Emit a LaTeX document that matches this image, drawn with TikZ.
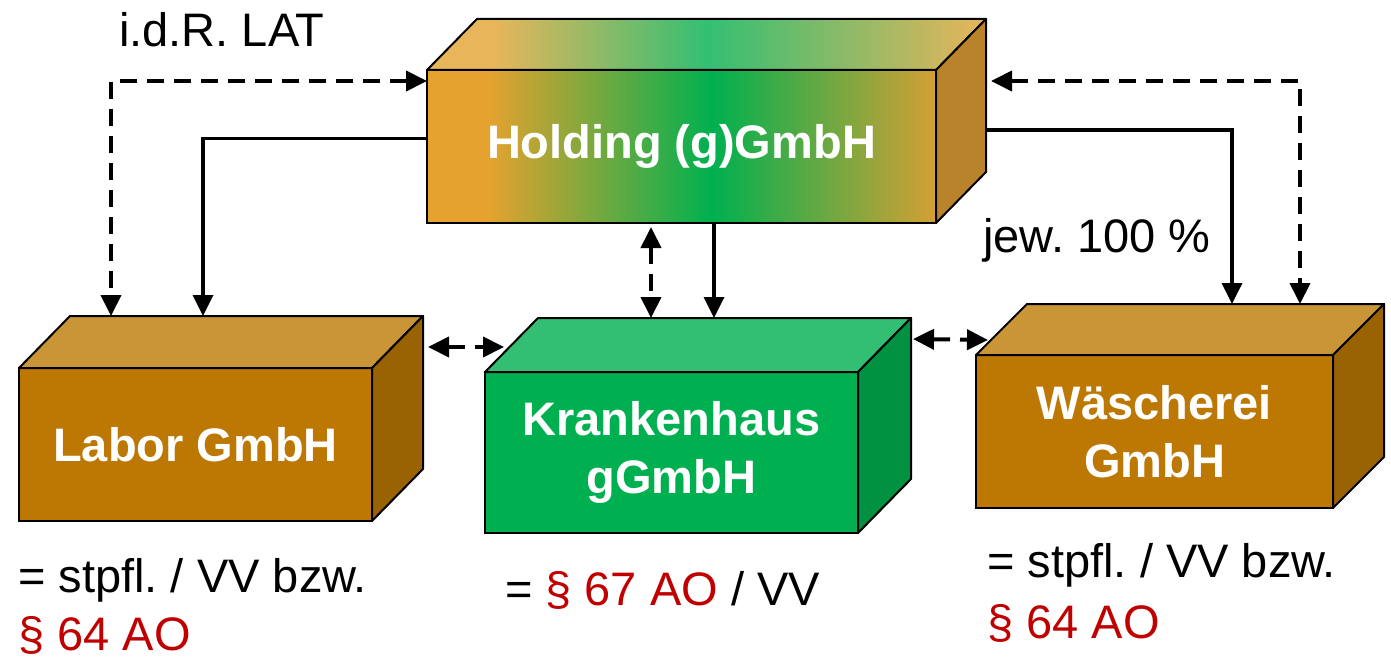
\documentclass[tikz,border=0pt]{standalone}
\usepackage{fontspec}
\setmainfont{Liberation Sans}
\usetikzlibrary{arrows.meta,calc}
\frenchspacing

\definecolor{brfront}{RGB}{188,120,3}
\definecolor{brtop}{RGB}{201,149,55}
\definecolor{brside}{RGB}{153,98,3}
\definecolor{grfront}{RGB}{0,176,80}
\definecolor{grtop}{RGB}{51,191,115}
\definecolor{grside}{RGB}{0,145,65}
\definecolor{hoorange}{RGB}{229,162,47}
\definecolor{hoorangeR}{RGB}{212,160,52}
\definecolor{hotop}{RGB}{232,181,91}
\definecolor{hoside}{RGB}{184,131,42}
\definecolor{parared}{RGB}{192,0,0}

\pgfdeclarehorizontalshading{holdfront}{100bp}{color(0bp)=(hoorange); color(31bp)=(hoorange); color(53bp)=(grfront); color(75bp)=(hoorangeR); color(100bp)=(hoorangeR)}
\pgfdeclarehorizontalshading{holdtop}{100bp}{color(0bp)=(hotop); color(31bp)=(hotop); color(50bp)=(grtop); color(75bp)=(hotop); color(100bp)=(hotop)}

\begin{document}
\begin{tikzpicture}[x=1pt, y=-1pt,
  font=\fontsize{47}{58}\selectfont,
  cube/.style={draw, line width=2pt, inner sep=0pt, outer sep=0pt, align=center,
               text=white, font=\fontsize{47}{58}\selectfont\bfseries, minimum height=153pt},
  face/.style={draw, line width=2pt, line join=round},
  link/.style={-{Triangle[length=21pt,width=20pt]}, line width=3.5pt},
  dlink/.style={{Triangle[length=21pt,width=20pt]}-{Triangle[length=21pt,width=20pt]},
                line width=4pt, dash pattern=on 17pt off 10pt},
  note/.style={anchor=base west, inner sep=0pt}
]
\useasboundingbox (0,0) rectangle (1391,658);

% front faces
\node[cube, fill=brfront, minimum width=353pt] (lab) at (195.5,444.5) {Labor GmbH};
\node[cube, shade, shading=holdfront, minimum width=509pt] (hold) at (681.5,146.5) {Holding (g)GmbH};
\node[cube, fill=grfront, minimum width=373pt, minimum height=161pt] (kh) at (671.5,452.5) {Krankenhaus\\gGmbH};
\node[cube, fill=brfront, minimum width=357pt] (wae) at (1154.5,431.5) {Wäscherei\\GmbH};

\coordinate (labback) at ($(lab.north west)+(51,-52)$);
\coordinate (holdback) at ($(hold.north east)+(50,-51)$);
\coordinate (khback) at ($(kh.north west)+(53,-54)$);
\coordinate (waeback) at ($(wae.north west)+(51,-51)$);

% top and side faces
\filldraw[face, fill=brtop] (lab.north west) -- (labback) -- ($(lab.north east)+(51,-52)$) -- (lab.north east) -- cycle;
\filldraw[face, fill=brside] (lab.north east) -- ($(lab.north east)+(51,-52)$) -- ($(lab.south east)+(51,-52)$) -- (lab.south east) -- cycle;
\path[face, shade, shading=holdtop] (hold.north west) -- ($(hold.north west)+(50,-51)$) -- (holdback) -- (hold.north east) -- cycle;
\filldraw[face, fill=hoside] (hold.north east) -- (holdback) -- ($(hold.south east)+(50,-51)$) -- (hold.south east) -- cycle;
\filldraw[face, fill=grtop] (kh.north west) -- (khback) -- ($(kh.north east)+(53,-54)$) -- (kh.north east) -- cycle;
\filldraw[face, fill=grside] (kh.north east) -- ($(kh.north east)+(53,-54)$) -- ($(kh.south east)+(53,-54)$) -- (kh.south east) -- cycle;
\filldraw[face, fill=brtop] (wae.north west) -- (waeback) -- ($(wae.north east)+(51,-51)$) -- (wae.north east) -- cycle;
\filldraw[face, fill=brside] (wae.north east) -- ($(wae.north east)+(51,-51)$) -- ($(wae.south east)+(51,-51)$) -- (wae.south east) -- cycle;

% connectors
\draw[dlink] ($(hold.north west)+(0,11)$) -| ($(labback)+(41,0)$);
\draw[link] ($(hold.west)+(0,-8)$) -| ($(labback)+(133,0)$);
\draw[link] ($(holdback)+(0,111)$) -| ($(waeback)+(205,0)$);
\draw[dlink] ($(holdback)+(5,62)$) -| ($(waeback)+(273,0)$);
\draw[dlink] ($(hold.south)+(-30.5,4)$) -- ($(khback)+(113,0)$);
\draw[link] ($(hold.south)+(32.5,0)$) -- ($(khback)+(176,0)$);
\draw[dlink] ($(lab.north east)+(56,-21)$) -- ($(kh.north west)+(19,-25)$);
\draw[dlink] ($(kh.north east)+(55,-33)$) -- ($(wae.north west)+(12,-15)$);

% notes
\node[note] (idr) at (119,47) {i.d.R. LAT};
\node[note] (jew) at (983,252) {jew. 100 \%};
\node[note] (labnote) at (18,592) {= stpfl. / VV bzw.};
\node[note, text=parared] (labpara) at (18,650) {§ 64 AO};
\node[note] (khnote) at (505,605) {= {\color{parared}§ 67 AO} / VV};
\node[note] (waenote) at (987,577) {= stpfl. / VV bzw.};
\node[note, text=parared] (waepara) at (987,638) {§ 64 AO};
\end{tikzpicture}
\end{document}
